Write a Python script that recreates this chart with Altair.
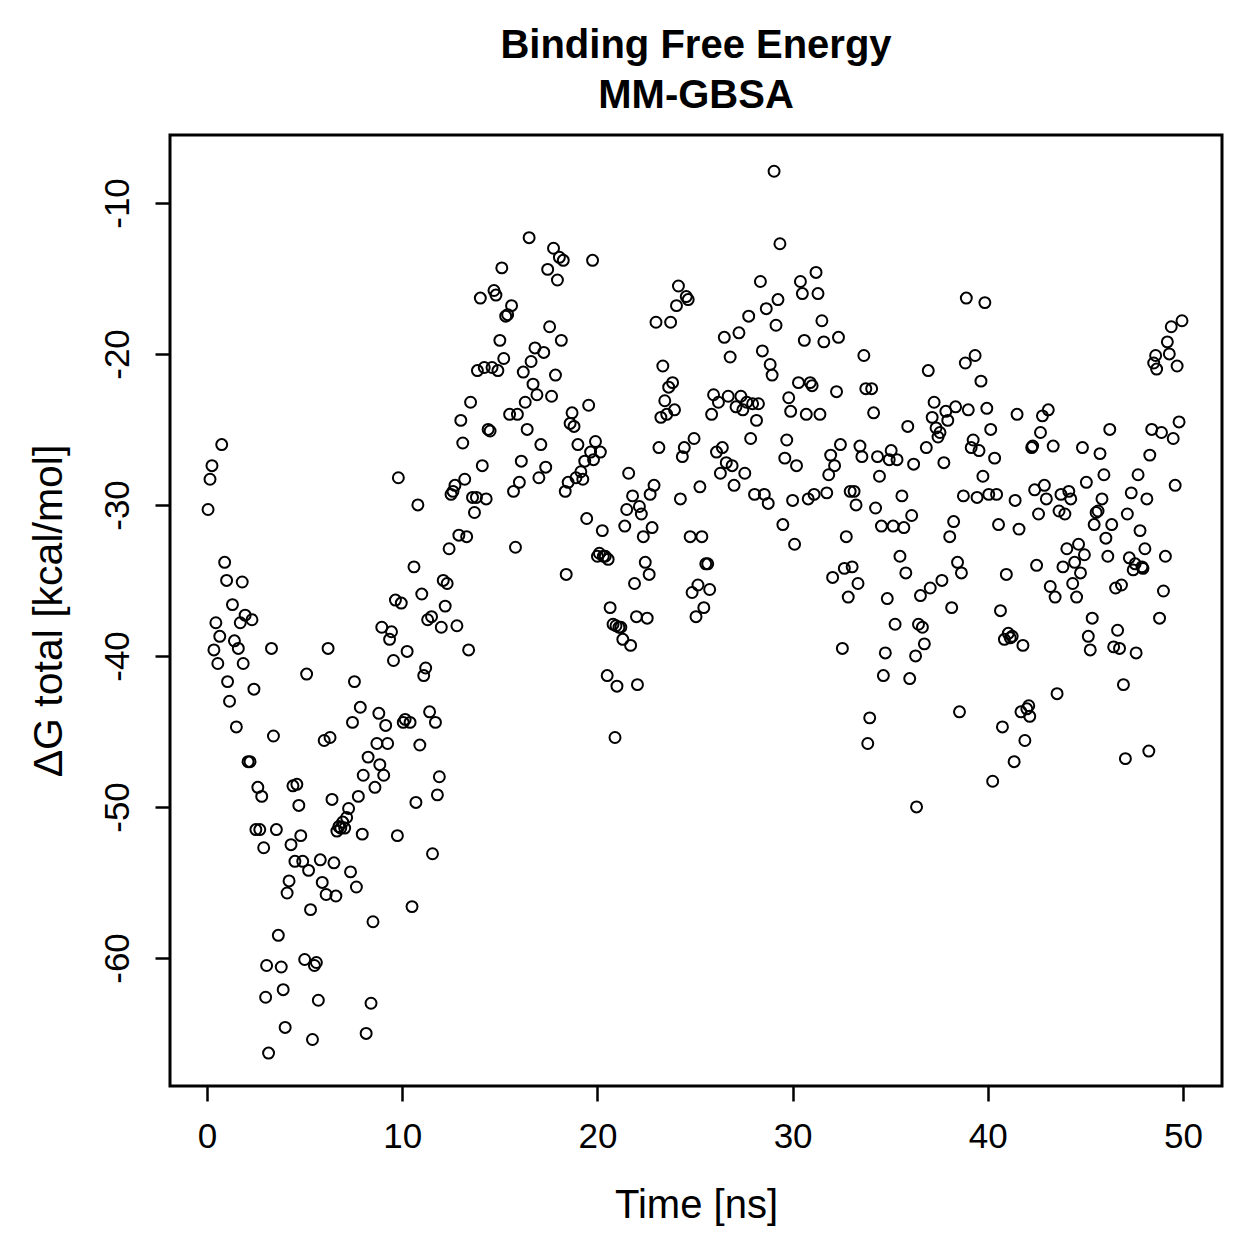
import altair as alt
import pandas as pd

time_ns = [
    0.05, 0.15, 0.25, 0.35, 0.45, 0.55, 0.65, 0.75, 0.9, 1.0, 1.05, 1.15, 1.3, 1.4, 1.5, 1.6, 1.7, 1.8, 1.85, 1.95,
    2.1, 2.2, 2.3, 2.4, 2.5, 2.6, 2.7, 2.8, 2.9, 3.0, 3.05, 3.15, 3.3, 3.4, 3.55, 3.65, 3.8, 3.9, 4.0,
    4.1, 4.2, 4.3, 4.4, 4.5, 4.6, 4.7, 4.8, 4.9, 5.0, 5.1, 5.2, 5.3, 5.4, 5.5, 5.6, 5.7, 5.8, 5.9,
    6.0, 6.1, 6.2, 6.3, 6.4, 6.5, 6.6, 6.65, 6.75, 6.85, 6.95, 7.05, 7.15, 7.25, 7.35, 7.45, 7.55, 7.65, 7.75, 7.85, 7.95,
    8.0, 8.15, 8.25, 8.4, 8.5, 8.6, 8.7, 8.8, 8.85, 8.95, 9.05, 9.15, 9.25, 9.35, 9.45, 9.55, 9.65, 9.75, 9.8, 9.95,
    10.05, 10.15, 10.25, 10.4, 10.5, 10.6, 10.7, 10.8, 10.9, 11.0, 11.1, 11.2, 11.3, 11.4, 11.5, 11.55, 11.7, 11.8, 11.9,
    12.0, 12.1, 12.2, 12.3, 12.4, 12.5, 12.6, 12.7, 12.8, 12.9, 13.0, 13.1, 13.2, 13.3, 13.4, 13.5, 13.6, 13.7, 13.8, 13.85,
    14.0, 14.1, 14.2, 14.3, 14.4, 14.5, 14.6, 14.7, 14.8, 14.9, 15.0, 15.1, 15.2, 15.3, 15.4, 15.5, 15.6, 15.7, 15.8, 15.9,
    16.0, 16.1, 16.2, 16.3, 16.4, 16.5, 16.6, 16.7, 16.8, 16.9, 17.0, 17.1, 17.25, 17.35, 17.45, 17.55, 17.65, 17.75, 17.85, 17.95,
    18.05, 18.15, 18.25, 18.35, 18.4, 18.5, 18.6, 18.7, 18.8, 18.9, 19.0, 19.15, 19.25, 19.35, 19.45, 19.55, 19.65, 19.75, 19.8, 19.9,
    20.0, 20.1, 20.15, 20.25, 20.3, 20.4, 20.5, 20.55, 20.65, 20.8, 20.9, 20.95, 21.0, 21.1, 21.2, 21.3, 21.4, 21.5, 21.6, 21.7, 21.8, 21.9,
    22.0, 22.05, 22.15, 22.25, 22.35, 22.45, 22.55, 22.65, 22.7, 22.8, 22.9, 23.0, 23.15, 23.25, 23.35, 23.45, 23.55, 23.65, 23.75, 23.85, 23.95,
    24.05, 24.15, 24.25, 24.35, 24.45, 24.55, 24.65, 24.75, 24.85, 24.95, 25.05, 25.15, 25.25, 25.35, 25.45, 25.55, 25.65, 25.75, 25.85, 25.95,
    26.1, 26.2, 26.3, 26.4, 26.5, 26.6, 26.7, 26.8, 26.9, 27.0, 27.1, 27.25, 27.35, 27.45, 27.55, 27.65, 27.75, 27.85, 27.95,
    28.05, 28.15, 28.25, 28.35, 28.45, 28.55, 28.65, 28.75, 28.85, 28.95, 29.05, 29.15, 29.25, 29.35, 29.5, 29.6, 29.7, 29.8, 29.9,
    30.0, 30.1, 30.2, 30.3, 30.4, 30.5, 30.6, 30.7, 30.8, 30.9, 31.0, 31.1, 31.2, 31.3, 31.4, 31.5, 31.6, 31.75, 31.85, 31.95,
    32.05, 32.15, 32.25, 32.35, 32.45, 32.55, 32.65, 32.75, 32.85, 32.95, 33.05, 33.15, 33.25, 33.35, 33.45, 33.55, 33.65, 33.75, 33.85, 33.95,
    34.05, 34.15, 34.25, 34.35, 34.45, 34.55, 34.65, 34.75, 34.85, 34.95, 35.05, 35.15, 35.25, 35.35, 35.5, 35.6, 35.7, 35.8, 35.9,
    36.0, 36.1, 36.2, 36.3, 36.35, 36.45, 36.55, 36.65, 36.75, 36.85, 36.95, 37.05, 37.15, 37.25, 37.35, 37.45, 37.55, 37.65, 37.75, 37.85, 37.95,
    38.05, 38.15, 38.25, 38.35, 38.45, 38.55, 38.65, 38.75, 38.85, 38.9, 39.0, 39.15, 39.25, 39.35, 39.45, 39.55, 39.65, 39.75, 39.85, 39.95,
    40.05, 40.15, 40.25, 40.35, 40.45, 40.55, 40.65, 40.75, 40.85, 40.95, 41.05, 41.15, 41.25, 41.35, 41.4, 41.5, 41.6, 41.7, 41.8, 41.9,
    42.0, 42.1, 42.15, 42.25, 42.3, 42.4, 42.5, 42.6, 42.7, 42.8, 42.9, 43.0, 43.1, 43.2, 43.35, 43.45, 43.55, 43.65, 43.75, 43.85, 43.95,
    44.05, 44.15, 44.25, 44.35, 44.45, 44.55, 44.65, 44.75, 44.85, 44.95, 45.05, 45.15, 45.25, 45.35, 45.45, 45.55, 45.65, 45.75, 45.85, 45.95,
    46.05, 46.15, 46.25, 46.35, 46.45, 46.55, 46.65, 46.75, 46.85, 46.95, 47.05, 47.15, 47.25, 47.35, 47.45, 47.55, 47.6, 47.7, 47.8, 47.9, 47.95,
    48.05, 48.15, 48.25, 48.3, 48.4, 48.5, 48.6, 48.65, 48.8, 48.9, 49.0, 49.1, 49.2, 49.3, 49.4, 49.5, 49.6, 49.7, 49.8, 49.95,
]

dg_total = [
    -30.3, -28.3, -27.4, -39.6, -37.8, -40.5, -38.7, -26.0, -33.8, -35.0, -41.7, -43.0, -36.6, -39.0, -44.7, -39.5, -37.8, -35.1, -40.5, -37.3,
    -47.0, -47.0, -37.6, -42.2, -51.5, -48.7, -51.5, -49.3, -52.7, -62.6, -60.5, -66.3, -39.5, -45.3, -51.5, -58.5, -60.6, -62.1, -64.6,
    -55.7, -54.9, -52.5, -48.6, -53.6, -48.5, -49.9, -51.9, -53.6, -60.1, -41.2, -54.2, -56.8, -65.4, -60.5, -60.3, -62.8, -53.5, -55.0,
    -45.6, -55.8, -39.5, -45.4, -49.5, -53.7, -55.9, -51.6, -51.3, -51.4, -51.0, -51.4, -50.7, -50.1, -54.3, -44.4, -41.7, -55.3, -49.3, -43.4, -51.8,
    -47.9, -65.0, -46.7, -63.0, -57.6, -48.7, -45.8, -43.8, -47.2, -38.1, -47.9, -44.6, -45.8, -38.9, -38.4, -40.3, -36.3, -51.9, -28.2, -36.5,
    -44.4, -44.2, -39.7, -44.4, -56.6, -34.1, -49.7, -30.0, -45.9, -35.9, -41.3, -40.8, -37.6, -43.7, -37.4, -53.1, -44.4, -49.2, -48.0,
    -38.1, -35.0, -36.7, -35.2, -32.9, -29.3, -29.1, -28.7, -38.0, -32.0, -24.4, -25.9, -28.3, -32.1, -39.6, -23.2, -29.5, -30.5, -29.5, -21.1,
    -16.3, -27.4, -20.9, -29.6, -25.0, -25.1, -20.9, -15.8, -16.1, -21.1, -19.1, -14.3, -20.3, -17.5, -17.4, -24.0, -16.8, -29.1, -32.8, -24.0,
    -28.5, -27.1, -21.2, -23.2, -25.0, -12.3, -20.5, -22.0, -19.6, -22.7, -28.2, -26.0, -19.9, -27.5, -14.4, -18.2, -22.8, -13.0, -21.4, -15.1,
    -13.6, -19.1, -13.8, -29.1, -34.6, -28.5, -24.6, -23.9, -24.8, -28.2, -26.0, -27.8, -28.3, -27.1, -30.9, -23.4, -26.5, -13.8, -27.0, -25.8,
    -33.4, -33.2, -26.5, -31.7, -33.4, -33.4, -41.3, -33.6, -36.8, -37.9, -45.4, -38.0, -42.0, -38.1, -38.1, -38.9, -31.4, -30.3, -27.9, -39.3, -29.4, -35.2,
    -37.4, -41.9, -30.1, -30.6, -32.1, -33.8, -37.5, -34.6, -29.3, -31.5, -28.7, -17.9, -26.2, -24.2, -20.8, -23.1, -24.0, -22.2, -17.9, -21.9, -23.7,
    -16.8, -15.5, -29.6, -26.8, -26.2, -16.2, -16.4, -32.1, -35.8, -25.6, -37.4, -35.3, -28.8, -32.1, -36.8, -33.9, -33.9, -35.6, -24.0, -22.7,
    -26.5, -23.2, -27.9, -26.2, -18.9, -27.2, -22.8, -20.2, -27.4, -28.7, -23.5, -18.6, -22.8, -23.7, -27.9, -23.2, -17.5, -25.6, -23.3,
    -29.3, -24.4, -23.3, -15.2, -19.8, -29.3, -17.0, -29.9, -20.7, -21.4, -7.9, -18.1, -16.4, -12.7, -31.3, -26.9, -25.7, -22.9, -23.8,
    -29.7, -32.6, -27.4, -21.9, -15.2, -16.0, -19.1, -24.0, -29.6, -21.9, -22.1, -29.3, -14.6, -16.0, -24.0, -17.8, -19.2, -29.2, -28.0, -26.7,
    -34.8, -27.4, -22.5, -18.9, -26.0, -39.5, -34.2, -32.1, -36.1, -29.1, -34.1, -29.1, -30.0, -35.2, -26.1, -26.8, -20.1, -22.3, -45.8, -44.1,
    -22.3, -23.9, -30.2, -26.8, -28.1, -31.4, -41.3, -39.8, -36.2, -27.0, -26.4, -31.4, -37.9, -27.0, -33.4, -29.4, -31.5, -34.5, -24.8,
    -41.5, -30.7, -27.3, -40.0, -50.0, -37.9, -36.0, -38.1, -39.2, -26.2, -21.1, -35.5, -24.2, -23.2, -24.9, -25.5, -25.2, -35.0, -27.2, -23.8, -24.4,
    -32.1, -36.8, -31.1, -23.5, -33.8, -43.7, -34.5, -29.4, -20.6, -16.3, -23.7, -26.2, -25.7, -20.1, -29.5, -26.4, -21.8, -28.1, -16.6, -23.6,
    -29.3, -25.0, -48.3, -26.9, -29.3, -31.3, -37.0, -44.7, -38.9, -34.6, -38.5, -38.8, -38.7, -47.0, -29.7, -24.0, -31.6, -43.7, -39.3, -45.6,
    -43.5, -43.3, -44.0, -26.2, -26.1, -29.0, -34.0, -30.6, -25.2, -24.1, -28.7, -29.6, -23.7, -35.4, -26.1, -36.1, -42.5, -30.4, -29.3, -34.1, -30.6,
    -32.9, -29.1, -29.6, -35.2, -33.8, -36.1, -32.6, -34.5, -26.2, -33.3, -28.5, -38.7, -39.6, -37.5, -31.3, -30.5, -30.4, -26.6, -29.6, -28.0,
    -32.2, -33.4, -25.0, -31.3, -39.4, -35.5, -38.3, -39.5, -35.3, -41.9, -46.8, -30.6, -33.5, -29.2, -34.3, -33.9, -39.8, -28.0, -31.7, -34.1, -34.2,
    -32.9, -29.6, -46.3, -26.7, -25.0, -20.6, -20.1, -21.0, -37.5, -25.2, -35.7, -33.4, -19.2, -20.0, -18.2, -25.6, -28.7, -20.8, -24.5, -17.8,
]

x_ticks = [0, 10, 20, 30, 40, 50]
y_ticks = [-10, -20, -30, -40, -50, -60]

df = pd.DataFrame({"time": time_ns, "dg": dg_total})

FONT = "Liberation Sans"

chart = (
    alt.Chart(df)
    .mark_point(shape="circle", filled=False, stroke="black", strokeWidth=2, size=120, opacity=1)
    .encode(
        x=alt.X(
            "time:Q",
            scale=alt.Scale(domain=[-1.9, 52.0], nice=False, zero=False),
            axis=alt.Axis(
                values=x_ticks,
                title="Time [ns]",
                grid=False,
                domain=False,
                ticks=True,
                tickSize=15,
                tickWidth=2.5,
                tickColor="black",
                labelFontSize=35,
                labelFont=FONT,
                labelColor="black",
                labelPadding=18,
                titleFontSize=40,
                titleFont=FONT,
                titleFontWeight="normal",
                titleColor="black",
                titlePadding=31,
            ),
        ),
        y=alt.Y(
            "dg:Q",
            scale=alt.Scale(domain=[-68.48, -5.5], nice=False, zero=False),
            axis=alt.Axis(
                values=y_ticks,
                labelExpr="'' + datum.value",
                title="ΔG total [kcal/mol]",
                grid=False,
                domain=False,
                ticks=True,
                tickSize=15,
                tickWidth=2.5,
                tickColor="black",
                labelFontSize=35,
                labelFont=FONT,
                labelColor="black",
                labelAngle=270,
                labelAlign="center",
                labelBaseline="bottom",
                labelPadding=20,
                titleFontSize=41,
                titleFont=FONT,
                titleFontWeight="normal",
                titleColor="black",
                titlePadding=30,
            ),
        ),
    )
    .properties(
        width=1052,
        height=951,
        title=alt.TitleParams(
            text=["Binding Free Energy", "MM-GBSA"],
            fontSize=40,
            font=FONT,
            fontWeight="bold",
            color="black",
            anchor="middle",
            lineHeight=50,
            offset=19,
        ),
        autosize=alt.AutoSizeParams(type="none"),
        padding={"left": 170, "top": 135, "right": 37, "bottom": 173},
        background="white",
    )
    .configure_view(stroke="black", strokeWidth=3)
)

chart.save("out.html", embed_options={"renderer": "svg", "actions": False})
